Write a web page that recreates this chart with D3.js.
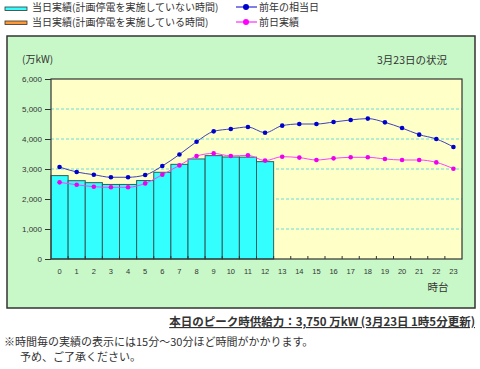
<!DOCTYPE html>
<html lang="ja">
<head>
<meta charset="UTF-8">
<title>電力使用状況</title>
<style>
  body { margin: 0; background: #fff; }
  svg { display: block; font-family: "Noto Sans CJK JP", "Noto Sans", sans-serif; }
</style>
</head>
<body>
<svg id="chart" width="480" height="369"></svg>
<script src="https://d3js.org/d3.v7.min.js"></script>
<script>
// 時台 (0〜23)
var hours = d3.range(24);
var xLabels = hours.map(String);
var yTicks = [0, 1000, 2000, 3000, 4000, 5000, 6000];

// 当日実績 (万kW) 0時〜12時
var todayActual = [2780, 2610, 2545, 2485, 2485, 2615, 2890, 3155, 3335, 3445, 3400, 3395, 3245];
// 前年の相当日
var lastYear = [3065, 2900, 2810, 2725, 2725, 2800, 3100, 3485, 3910, 4255, 4335, 4400, 4210,
                4445, 4500, 4500, 4565, 4635, 4680, 4555, 4365, 4145, 4000, 3735];
// 前日実績
var prevDay = [2555, 2475, 2410, 2390, 2390, 2520, 2810, 3120, 3430, 3520, 3435, 3455, 3280,
               3410, 3380, 3300, 3355, 3390, 3390, 3335, 3300, 3300, 3220, 3010];

var svg = d3.select("#chart");

// 緑の枠
svg.append("rect").attr("x", 7).attr("y", 36).attr("width", 468).attr("height", 272)
  .attr("fill", "#c8f8c8").attr("stroke", "#333").attr("stroke-width", 1.5);

var plotL = 51, plotR = 462, plotT = 79, plotB = 259;

var x = d3.scaleBand().domain(hours).range([plotL, plotR]).padding(0);
var y = d3.scaleLinear().domain([0, 6000]).range([plotB, plotT]);
var bw = x.bandwidth();

// グラフ背景
svg.append("rect").attr("x", plotL).attr("y", plotT).attr("width", plotR - plotL).attr("height", plotB - plotT)
  .attr("fill", "#ffffc8");

// 目盛線
svg.append("g").selectAll("line").data(yTicks.slice(1, -1)).join("line")
  .attr("x1", plotL).attr("x2", plotR)
  .attr("y1", function(d) { return y(d); }).attr("y2", function(d) { return y(d); })
  .attr("stroke", "#66dddd").attr("stroke-dasharray", "3,2");

// 棒グラフ
svg.append("g").selectAll("rect").data(todayActual).join("rect")
  .attr("x", function(d, i) { return x(i); })
  .attr("y", function(d) { return y(d); })
  .attr("width", bw)
  .attr("height", function(d) { return plotB - y(d); })
  .attr("fill", "#33ffff").attr("stroke", "#2f5f5f").attr("stroke-width", 1);

// 折れ線
var line = d3.line()
  .x(function(d, i) { return x(i) + bw / 2; })
  .y(function(d) { return y(d); })
  .curve(d3.curveMonotoneX);

function drawSeries(data, lineColor, dotColor) {
  svg.append("path").datum(data).attr("d", line)
    .attr("fill", "none").attr("stroke", lineColor).attr("stroke-width", 1);
  svg.append("g").selectAll("circle").data(data).join("circle")
    .attr("cx", function(d, i) { return x(i) + bw / 2; })
    .attr("cy", function(d) { return y(d); })
    .attr("r", 2.3).attr("fill", dotColor);
}
drawSeries(lastYear, "#4040c0", "#0000cc");
drawSeries(prevDay, "#ff40ff", "#ee00ee");

// 外枠
svg.append("rect").attr("x", plotL).attr("y", plotT).attr("width", plotR - plotL).attr("height", plotB - plotT)
  .attr("fill", "none").attr("stroke", "#333").attr("stroke-width", 1.2);

// Y軸
var yAxis = svg.append("g").attr("transform", "translate(" + plotL + ",0)")
  .call(d3.axisLeft(y).tickValues(yTicks).tickFormat(d3.format(",")).tickSize(6).tickPadding(3));
yAxis.select(".domain").remove();
yAxis.selectAll("line").attr("stroke", "#333");
yAxis.selectAll("text").attr("font-size", 8).attr("fill", "#333")
  .attr("font-family", "Arial, 'Liberation Sans', sans-serif");

// X軸
var xAxis = svg.append("g").attr("transform", "translate(0," + plotB + ")")
  .call(d3.axisBottom(x).tickFormat(function(d) { return xLabels[d]; }).tickSize(0).tickPadding(10));
xAxis.select(".domain").remove();
xAxis.selectAll("text").attr("font-size", 7.5).attr("fill", "#333")
  .attr("font-family", "Arial, 'Liberation Sans', sans-serif");
svg.append("g").selectAll("line").data(hours.slice(1)).join("line")
  .attr("x1", function(d) { return x(d); }).attr("x2", function(d) { return x(d); })
  .attr("y1", plotB).attr("y2", plotB - 3)
  .attr("stroke", "#333");

// 文字
svg.append("text").attr("x", 22).attr("y", 63).attr("font-size", 10).attr("fill", "#333").text("(万kW)");
svg.append("text").attr("x", 447).attr("y", 64).attr("text-anchor", "end").attr("font-size", 10.5)
  .attr("fill", "#333").text("3月23日の状況");
svg.append("text").attr("x", 438).attr("y", 291).attr("text-anchor", "middle").attr("font-size", 10.5)
  .attr("fill", "#333").text("時台");

// 凡例
var legend = svg.append("g").attr("font-size", 10).attr("fill", "#333");
legend.append("rect").attr("x", 5).attr("y", 7).attr("width", 22).attr("height", 3.5)
  .attr("fill", "#33ffff").attr("stroke", "#333").attr("stroke-width", 0.8);
legend.append("text").attr("x", 32).attr("y", 11).text("当日実績(計画停電を実施していない時間)");
legend.append("rect").attr("x", 5).attr("y", 21).attr("width", 22).attr("height", 3.5)
  .attr("fill", "#ff9933").attr("stroke", "#333").attr("stroke-width", 0.8);
legend.append("text").attr("x", 32).attr("y", 26).text("当日実績(計画停電を実施している時間)");

legend.append("line").attr("x1", 236).attr("x2", 257).attr("y1", 7).attr("y2", 7)
  .attr("stroke", "#0000cc").attr("stroke-width", 1);
legend.append("circle").attr("cx", 246).attr("cy", 7).attr("r", 3).attr("fill", "#0000cc");
legend.append("text").attr("x", 259).attr("y", 11).text("前年の相当日");
legend.append("line").attr("x1", 236).attr("x2", 257).attr("y1", 22).attr("y2", 22)
  .attr("stroke", "#ff00ff").attr("stroke-width", 1);
legend.append("circle").attr("cx", 246).attr("cy", 22).attr("r", 3).attr("fill", "#ff00ff");
legend.append("text").attr("x", 259).attr("y", 26).text("前日実績");

// 下部の文字
svg.append("text").attr("x", 475).attr("y", 326).attr("text-anchor", "end")
  .attr("font-size", 11.5).attr("font-weight", "bold").attr("fill", "#333")
  .attr("text-decoration", "underline")
  .text("本日のピーク時供給力：3,750 万kW (3月23日 1時5分更新)");
svg.append("text").attr("x", 4).attr("y", 346).attr("font-size", 11).attr("fill", "#333")
  .text("※時間毎の実績の表示には15分～30分ほど時間がかかります。");
svg.append("text").attr("x", 20).attr("y", 361).attr("font-size", 11).attr("fill", "#333")
  .text("予め、ご了承ください。");
</script>
</body>
</html>
